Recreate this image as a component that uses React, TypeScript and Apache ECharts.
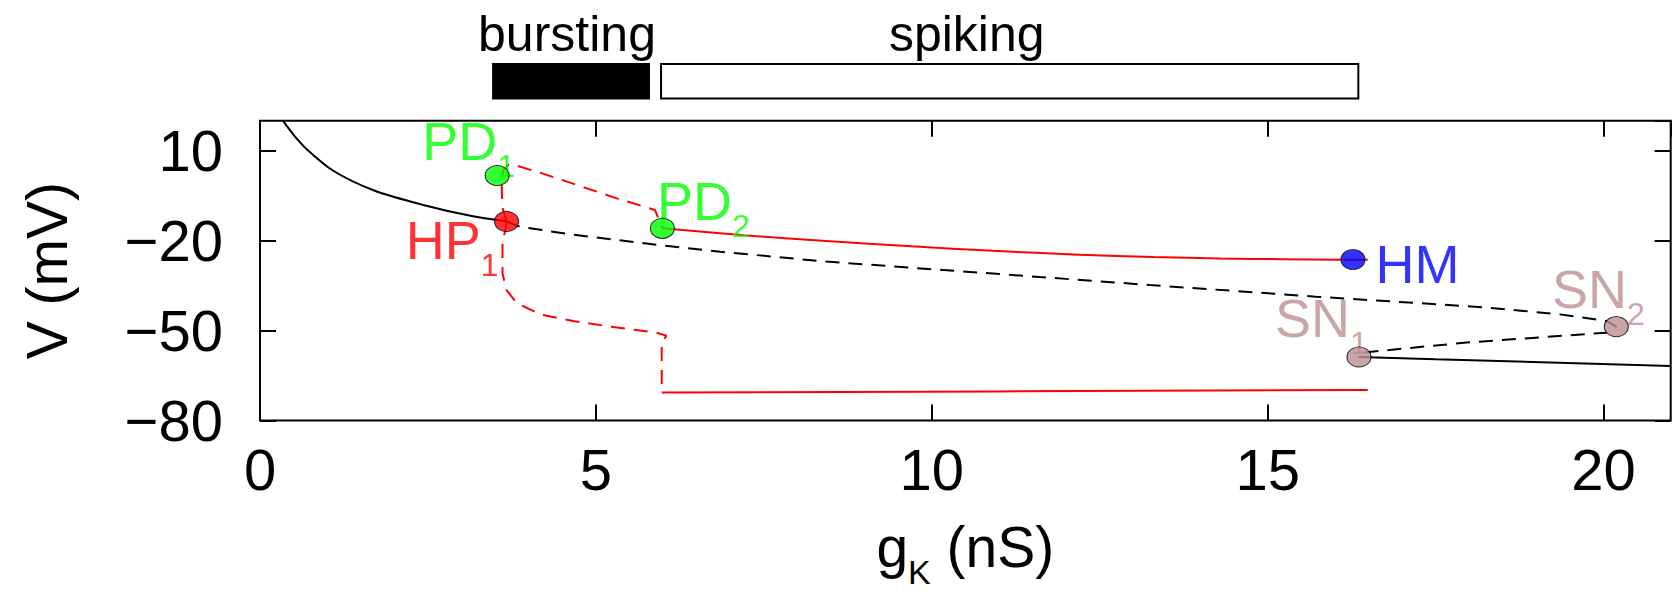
import React, { useEffect, useRef } from "react";
import * as echarts from "echarts";

const FONT = '"Liberation Sans", Arial, Helvetica, sans-serif';

// ---- Data: [gK (nS), V (mV)] ----
const stableRestUpper: [number, number][] = [
  [0.34, 20], [0.5, 15.3], [0.7, 10.4], [1.09, 3.3], [1.69, -3.2], [2.43, -8.1],
  [3.17, -11.9], [3.67, -13.6],
];
const unstableRest: [number, number][] = [
  [3.67, -13.6], [3.87, -15.4], [4.66, -18.0], [5.95, -21.5], [6.85, -23.7], [8.43, -27.0],
  [10.91, -31.0], [13.24, -34.8], [15.72, -38.7], [18.2, -42.2], [19.35, -44.6], [20.04, -46.8],
  [20.19, -48.7], [20.04, -50.7], [17.96, -54.0], [16.47, -57.2], [16.36, -58.8],
];
const stableRestLower: [number, number][] = [
  [16.36, -58.8], [17.5, -59.6], [18.95, -60.5], [21, -61.8],
];
const unstableCycleMax: [number, number][] = [
  [3.67, -13.6], [3.61, -9], [3.6, -4], [3.6, 0], [3.62, 3.5], [3.7, 5.3], [3.85, 4.8],
  [4.19, 2.5], [4.66, -1.0], [5.31, -5.9], [5.88, -9.8], [5.99, -15.9],
];
const unstableCycleMin: [number, number][] = [
  [3.67, -13.6], [3.65, -16.8], [3.61, -20], [3.61, -31], [3.67, -36.5], [3.82, -40.8],
  [4.17, -44.6], [4.66, -46.8], [5.16, -48.5], [5.9, -50.7], [6.05, -51.7], [5.98, -54],
  [5.98, -70.7],
];
const stableCycleMax: [number, number][] = [
  [5.99, -15.9], [7.2, -18.2], [8.43, -20.1], [9.7, -21.9], [10.91, -23.4], [12.2, -24.7],
  [13.3, -25.5], [14.3, -25.95], [15.2, -26.2], [16.07, -26.35], [16.49, -26.4],
];
const stableCycleMin: [number, number][] = [
  [5.98, -70.7], [11.0, -70.3], [16.49, -69.8],
];

// Bifurcation points
const bifMain = ["PD", "HP", "PD", "HM", "SN", "SN"];
const bifSub = ["1", "1", "2", "", "1", "2"];
const bifX = [3.53, 3.67, 5.99, 16.27, 16.36, 20.19];
const bifV = [1.7, -13.6, -15.9, -26.3, -58.8, -48.7];

// Activity regimes (top bars)
const regimeNames = ["bursting", "spiking"];
const regimeStart = [3.47, 5.97];
const regimeEnd = [5.79, 16.35];
const regimeLabelX = [4.57, 10.52];

// Axis ticks
const xTicks = [0, 5, 10, 15, 20];
const yTicks = [-80, -50, -20, 10];

// ---- Styles ----
const bifColors = ["#00ff00", "#ff0000", "#00ff00", "#0000ff", "#bc8f8f", "#bc8f8f"];
const bifLabelOffsets: [number, number][] = [
  [-28.5, -34.2], [-54.3, 18.4], [41.1, -27.4], [64.5, 4.0], [-37.6, -39.3], [-18, -37.7],
];
const regimeFill = ["#000000", "#ffffff"];

const lineSeries = (
  data: [number, number][],
  color: string,
  dashed: boolean,
  smooth: number | boolean = false
) => ({
  type: "line",
  xAxisIndex: 0,
  yAxisIndex: 0,
  data,
  showSymbol: false,
  symbol: "none",
  smooth,
  z: 2,
  lineStyle: { color, width: 2, type: dashed ? [14, 9] : "solid" },
  silent: true,
});

const tickStyle = { inside: true, length: 16, lineStyle: { color: "#000", width: 2 } };
const noLine = { show: false, onZero: false };

export default function App() {
  const ref = useRef<HTMLDivElement>(null);
  useEffect(() => {
    if (!ref.current) return;
    const chart = echarts.init(ref.current, undefined, { renderer: "svg" });
    const subRich = (main: number, sub: number) => ({
      m: { fontSize: main, lineHeight: main, fontFamily: FONT },
      s: { fontSize: sub, lineHeight: main, fontFamily: FONT, padding: [50, 0, 0, 0] },
    });
    const option: any = {
      animation: false,
      backgroundColor: "#ffffff",
      textStyle: { fontFamily: FONT },
      grid: [
        {
          left: 260, right: 6.3, top: 120.7, bottom: 167.3,
          show: true, borderColor: "#000", borderWidth: 2, backgroundColor: "transparent",
        },
        { left: 260, right: 6.3, top: 64, height: 34.5 },
      ],
      xAxis: [
        {
          gridIndex: 0, type: "value", min: 0, max: 21, interval: 5, position: "bottom",
          axisLine: noLine, axisTick: tickStyle, splitLine: { show: false },
          axisLabel: {
            fontSize: 58, color: "#000", fontFamily: FONT, margin: 20,
            showMaxLabel: false,
            formatter: (v: number) => (xTicks.includes(v) ? String(v) : ""),
          },
          name: "{m|g}{s|K}{m| (nS)}",
          nameLocation: "middle",
          nameGap: 98,
          nameTextStyle: { color: "#000", fontSize: 57, fontFamily: FONT, rich: subRich(57, 34) },
        },
        {
          gridIndex: 0, type: "value", min: 0, max: 21, interval: 5, position: "top",
          axisLine: noLine, axisTick: tickStyle, splitLine: { show: false },
          axisLabel: { show: false },
        },
        { gridIndex: 1, type: "value", min: 0, max: 21, show: false, axisLine: { onZero: false } },
      ],
      yAxis: [
        {
          gridIndex: 0, type: "value", min: -80, max: 20, interval: 30, position: "left",
          axisLine: noLine, axisTick: tickStyle, splitLine: { show: false },
          axisLabel: {
            fontSize: 58, color: "#000", fontFamily: FONT, margin: 37,
            showMaxLabel: false,
            formatter: (v: number) =>
              yTicks.includes(v) ? (v < 0 ? "\u2212" + Math.abs(v) : String(v)) : "",
          },
          name: "V (mV)",
          nameLocation: "middle",
          nameGap: 185,
          nameTextStyle: { color: "#000", fontSize: 57, fontFamily: FONT },
        },
        {
          gridIndex: 0, type: "value", min: -80, max: 20, interval: 30, position: "right",
          axisLine: noLine, axisTick: tickStyle, splitLine: { show: false },
          axisLabel: { show: false },
        },
        { gridIndex: 1, type: "value", min: 0, max: 1, show: false, axisLine: { onZero: false } },
      ],
      series: [
        lineSeries(stableRestUpper, "#000", false, 0.3),
        lineSeries(unstableRest, "#000", true),
        lineSeries(stableRestLower, "#000", false),
        lineSeries(unstableCycleMax, "#ff0000", true),
        lineSeries(unstableCycleMin, "#ff0000", true),
        lineSeries(stableCycleMax, "#ff0000", false, 0.3),
        lineSeries(stableCycleMin, "#ff0000", false),
        // labels (drawn beneath the dots)
        {
          type: "scatter",
          xAxisIndex: 0,
          yAxisIndex: 0,
          z: 3,
          silent: true,
          symbolSize: 1,
          itemStyle: { color: "transparent" },
          data: bifX.map((x, i) => ({
            value: [x, bifV[i]],
            label: {
              show: true,
              position: "inside",
              offset: bifLabelOffsets[i],
              color: bifColors[i],
              fontFamily: FONT,
              fontSize: 54,
              formatter: bifSub[i] ? `{m|${bifMain[i]}}{s|${bifSub[i]}}` : `{m|${bifMain[i]}}`,
              rich: subRich(54, 32),
            },
          })),
        },
        // dots
        {
          type: "scatter",
          xAxisIndex: 0,
          yAxisIndex: 0,
          z: 5,
          silent: true,
          symbol: "circle",
          symbolSize: [24, 20],
          data: bifX.map((x, i) => ({
            value: [x, bifV[i]],
            itemStyle: { color: bifColors[i], borderColor: "#000", borderWidth: 1 },
          })),
        },
        // regime bars
        {
          type: "custom",
          xAxisIndex: 2,
          yAxisIndex: 2,
          silent: true,
          data: regimeStart.map((s, i) => [s, regimeEnd[i], i]),
          renderItem: (params: any, api: any) => {
            const i = api.value(2);
            const a = api.coord([api.value(0), 1]);
            const b = api.coord([api.value(1), 0]);
            return {
              type: "rect",
              shape: { x: a[0], y: a[1], width: b[0] - a[0], height: b[1] - a[1] },
              style: { fill: regimeFill[i], stroke: "#000", lineWidth: 2 },
            };
          },
        },
        {
          type: "custom",
          xAxisIndex: 2,
          yAxisIndex: 2,
          silent: true,
          data: regimeLabelX.map((x, i) => [x, 1, i]),
          renderItem: (params: any, api: any) => {
            const i = api.value(2);
            const p = api.coord([api.value(0), api.value(1)]);
            return {
              type: "text",
              x: p[0],
              y: p[1] - 5,
              style: {
                text: regimeNames[i],
                fill: "#000",
                fontSize: 50,
                fontFamily: FONT,
                align: "center",
                verticalAlign: "bottom",
                textAlign: "center",
                textVerticalAlign: "bottom",
              },
            };
          },
        },
      ],
    };
    chart.setOption(option);
    return () => chart.dispose();
  }, []);
  return (
    <div
      ref={ref}
      style={{ position: "absolute", left: 0, top: 0, width: 1677, height: 594, background: "#fff" }}
    />
  );
}
